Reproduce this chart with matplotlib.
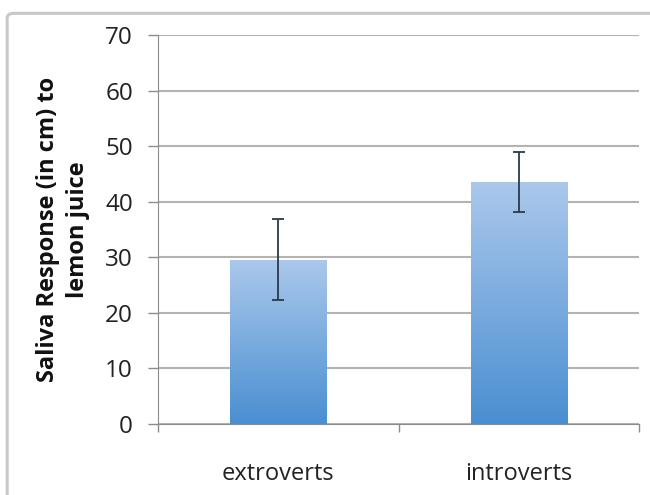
import numpy as np
import matplotlib
matplotlib.use("Agg")
from matplotlib import pyplot as plt
from matplotlib.colors import LinearSegmentedColormap
from matplotlib.patches import FancyBboxPatch

categories = ["extroverts", "introverts"]
means = [29.6, 43.6]
errors = [7.3, 5.4]
yticks = [0, 10, 20, 30, 40, 50, 60, 70]

plt.rcParams['font.family'] = ['Open Sans', 'DejaVu Sans']

fig = plt.figure(figsize=(6.5, 4.95), dpi=100)
# outer chart border
border = FancyBboxPatch((0.011, -0.05), 1.2, 1.023, boxstyle="round,pad=0,rounding_size=0.01",
                        transform=fig.transFigure, fill=False, edgecolor="#c8c8c8", linewidth=2.2)
fig.patches.append(border)

ax = fig.add_axes([158/650, 1 - 424/495, (639 - 158)/650, (424 - 35)/495])
x = np.arange(len(categories))
bars = ax.bar(x, means, width=0.4, color="none", zorder=2)

cmap = LinearSegmentedColormap.from_list("grad", ["#4a8fd1", "#abc8ec"])
grad = np.linspace(0, 1, 256).reshape(-1, 1)
for b in bars:
    x0, y0 = b.get_x(), b.get_y()
    im = ax.imshow(grad, cmap=cmap, origin="lower", aspect="auto",
                   extent=[x0, x0 + b.get_width(), y0, y0 + b.get_height()], zorder=2)
    im.set_clip_path(b)

ax.errorbar(x, means, yerr=errors, fmt="none", ecolor="#2b3a4a", elinewidth=1.3,
            capsize=4, capthick=1.3, zorder=3)

ax.set_xlim(-0.5, 1.5)
ax.set_ylim(0, 70)
ax.set_yticks(yticks)
ax.set_yticklabels([str(t) for t in yticks], fontsize=17.5, color="#222222")
ax.set_xticks([-0.5, 0.5, 1.5])
ax.set_xticklabels([])
ax.set_xticks(x, minor=True)
ax.set_xticklabels(categories, minor=True, fontsize=17, color="#222222")
ax.tick_params(axis="x", which="minor", length=0, pad=27)
ax.tick_params(axis="x", which="major", length=6, direction="out", color="#8c8c8c", width=1)
ax.tick_params(axis="y", length=7, direction="out", color="#8c8c8c", width=1, pad=11)

ax.yaxis.grid(True, color="#b3b3b3", linewidth=1.5, zorder=0)
ax.set_axisbelow(True)
for s in ["top", "right"]:
    ax.spines[s].set_visible(False)
ax.spines["left"].set_color("#8c8c8c")
ax.spines["bottom"].set_color("#8c8c8c")

ax.set_ylabel("Saliva Response (in cm) to\nlemon juice", fontsize=17, fontweight="bold",
              color="#111111", linespacing=1.32)
ax.yaxis.set_label_coords(-0.141, 0.5)

fig.savefig("out.png", dpi=100)
